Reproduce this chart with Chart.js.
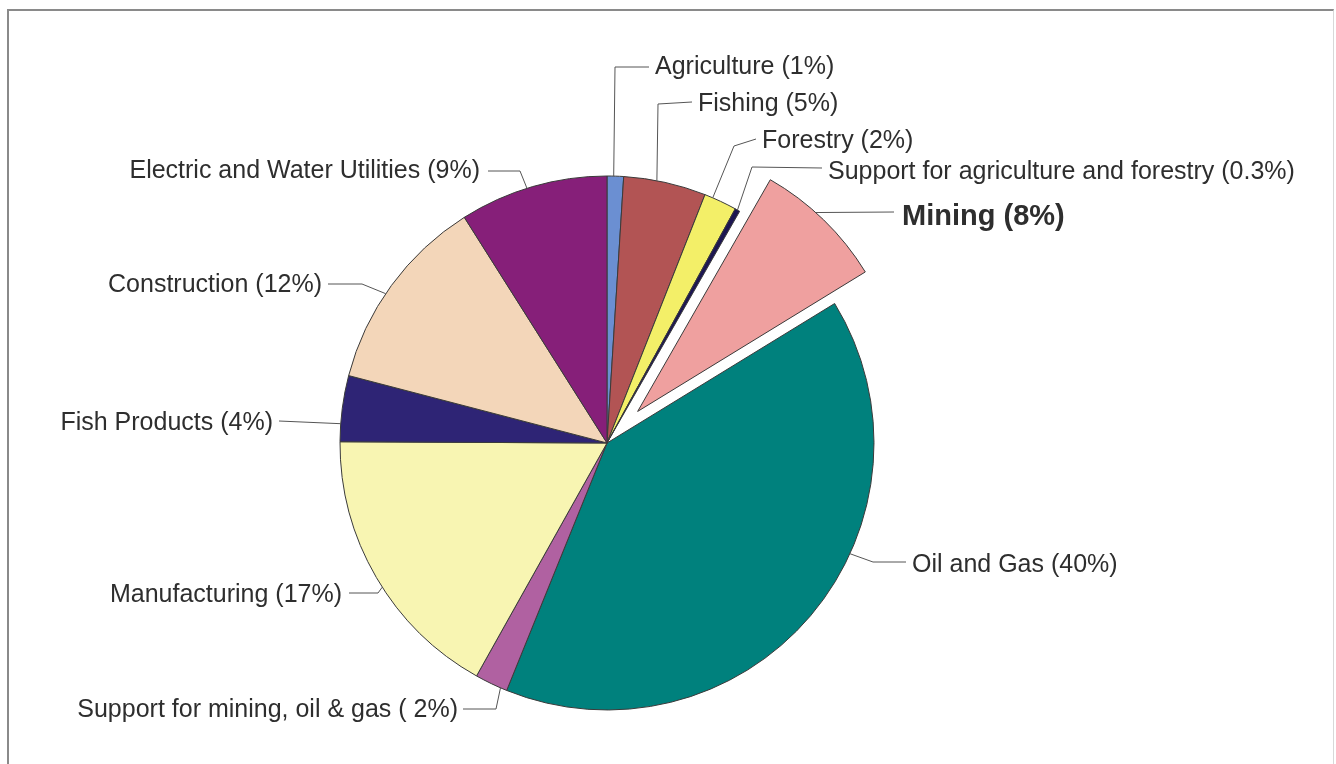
<!DOCTYPE html>
<html>
<head>
<meta charset="utf-8">
<title>Sector shares</title>
<script src="https://cdn.jsdelivr.net/npm/chart.js@4.4.0/dist/chart.umd.min.js"></script>
<style>
    html, body { margin: 0; padding: 0; background: #fff; }
    body { width: 1336px; height: 764px; overflow: hidden; position: relative; }
    #frame {
        position: absolute; left: 7px; top: 9px; width: 1324px; height: 760px;
        border-top: 2px solid #8a8a8a; border-left: 2px solid #8a8a8a; border-right: 1px solid #d8d8d8;
    }
    #myChart { position: absolute; left: 0; top: 0; }
</style>
</head>
<body>
<div id="frame"></div>
<canvas id="myChart" width="1336" height="764"></canvas>
<script>
const sectors = [
    'Agriculture', 'Fishing', 'Forestry', 'Support for agriculture and forestry', 'Mining',
    'Oil and Gas', 'Support for mining, oil & gas', 'Manufacturing', 'Fish Products',
    'Construction', 'Electric and Water Utilities'
]
const shares = [1, 5, 2, 0.3, 8, 40, 2, 17, 4, 12, 9]
const labelTexts = [
    'Agriculture (1%)', 'Fishing (5%)', 'Forestry (2%)', 'Support for agriculture and forestry (0.3%)',
    'Mining (8%)', 'Oil and Gas (40%)', 'Support for mining, oil & gas ( 2%)', 'Manufacturing (17%)',
    'Fish Products (4%)', 'Construction (12%)', 'Electric and Water Utilities (9%)'
]
const sectorColors = [
    '#6b8fd2', '#b25454', '#f3ef68', '#1d1652', '#efa09f',
    '#00817d', '#b061a1', '#f8f5b2', '#2e2475', '#f3d6b9', '#861f79'
]
const explodedIndex = 4

// where each callout sits: text anchor, elbow points, and where on the slice edge the line ends (0..1 of its sweep)
const calloutLayout = [
    { x: 655, y: 74, align: 'left', pts: [[649, 67], [615, 67]], at: 0.4 },
    { x: 698, y: 111, align: 'left', pts: [[692, 102], [658, 104]], at: 0.4 },
    { x: 762, y: 148, align: 'left', pts: [[756, 139], [734, 146]], at: 0.25 },
    { x: 828, y: 179, align: 'left', pts: [[822, 168], [752, 167]], at: 0.5 },
    { x: 902, y: 225, align: 'left', pts: [[894, 212]], at: 0.42, bold: true },
    { x: 912, y: 572, align: 'left', pts: [[906, 562], [873, 562]], at: 0.39 },
    { x: 458, y: 717, align: 'right', pts: [[463, 709], [496, 709]], at: 0.2 },
    { x: 342, y: 602, align: 'right', pts: [[349, 593], [378, 593]], at: 0.46 },
    { x: 273, y: 430, align: 'right', pts: [[279, 421]], at: 0.27 },
    { x: 322, y: 292, align: 'right', pts: [[328, 284], [362, 284]], at: 0.45 },
    { x: 480, y: 178, align: 'right', pts: [[488, 171], [520, 171]], at: 0.46 }
]

// pull one slice out from the centre without changing its radius
const explodeSlice = {
    id: 'explodeSlice',
    afterDatasetUpdate: (chart, args, opts) => {
        const arc = chart.getDatasetMeta(0).data[opts.index]
        if (!arc) return
        const mid = (arc.startAngle + arc.endAngle) / 2
        arc.x += Math.cos(mid) * opts.distance
        arc.y += Math.sin(mid) * opts.distance
    }
}

const sectorLabels = {
    id: 'sectorLabels',
    afterDatasetsDraw: (chart) => {
        const c = chart.ctx
        const arcs = chart.getDatasetMeta(0).data
        c.save()
        calloutLayout.forEach((item, i) => {
            const arc = arcs[i]
            const a = arc.startAngle + item.at * (arc.endAngle - arc.startAngle)
            const ex = arc.x + arc.outerRadius * Math.cos(a)
            const ey = arc.y + arc.outerRadius * Math.sin(a)

            c.strokeStyle = '#555'
            c.lineWidth = 1
            c.beginPath()
            c.moveTo(item.pts[0][0], item.pts[0][1])
            item.pts.slice(1).forEach(p => c.lineTo(p[0], p[1]))
            c.lineTo(ex, ey)
            c.stroke()

            c.fillStyle = '#2e2e2e'
            c.font = item.bold ? 'bold 29px "Liberation Sans", Arial, sans-serif' : '25px "Liberation Sans", Arial, sans-serif'
            c.textAlign = item.align
            c.textBaseline = 'alphabetic'
            c.fillText(labelTexts[i], item.x, item.y)
        })
        c.restore()
    }
}

const ctx = document.getElementById('myChart')
new Chart(ctx, {
    type: 'pie',
    data: {
        labels: sectors,
        datasets: [{
            data: shares,
            backgroundColor: sectorColors,
            borderColor: '#3a3a3a',
            borderWidth: 1,
        }]
    },
    options: {
        responsive: false,
        animation: false,
        devicePixelRatio: 1,
        events: [],
        radius: 267,
        layout: { padding: { left: 0, right: 122, top: 122, bottom: 0 } },
        plugins: {
            legend: { display: false },
            tooltip: { enabled: false },
            explodeSlice: { index: explodedIndex, distance: 44 }
        }
    },
    plugins: [explodeSlice, sectorLabels]
});
</script>
</body>
</html>
